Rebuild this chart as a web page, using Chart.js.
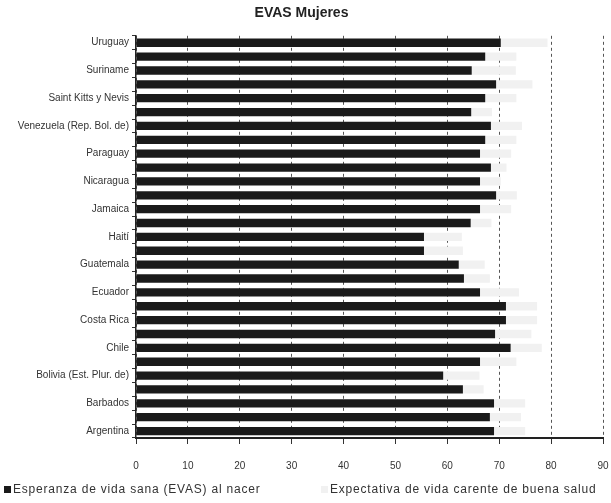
<!DOCTYPE html>
<html>
<head>
    <title>EVAS Mujeres</title>
    <meta charset="utf-8" />
    <script src="https://cdn.jsdelivr.net/npm/chart.js@4/dist/chart.umd.min.js"></script>
    <style>
        body { margin: 0; background: #fff; }
    </style>
</head>
<body>
    <canvas id="chartCanvas" width="611" height="503"></canvas>
    <script>
        // categories top to bottom, only every other one gets a label
        const countries = [
            "Uruguay", "Trinidad y Tabago", "Suriname", "Santa Lucía", "Saint Kitts y Nevis",
            "República Dominicana", "Venezuela (Rep. Bol. de)", "Perú", "Paraguay", "Panamá",
            "Nicaragua", "México", "Jamaica", "Honduras", "Haití",
            "Guyana", "Guatemala", "El Salvador", "Ecuador", "Cuba",
            "Costa Rica", "Colombia", "Chile", "Brasil", "Bolivia (Est. Plur. de)",
            "Belice", "Barbados", "Bahamas", "Argentina"
        ];
        const evas = [
            70.3, 67.3, 64.7, 69.4, 67.3,
            64.6, 68.4, 67.3, 66.3, 68.4,
            66.3, 69.4, 66.3, 64.5, 55.5,
            55.5, 62.2, 63.2, 66.3, 71.3,
            71.3, 69.2, 72.2, 66.3, 59.2,
            63.0, 69.0, 68.2, 69.0
        ];
        const mala_salud = [
            9.0, 6.0, 8.5, 7.0, 6.0,
            4.0, 6.0, 6.0, 6.0, 3.0,
            4.0, 4.0, 6.0, 4.0, 7.3,
            7.5, 5.0, 5.0, 7.5, 6.0,
            6.0, 7.0, 6.0, 7.0, 7.0,
            4.0, 6.0, 6.0, 6.0
        ];
        const x_min = 0;
        const x_max = 90;
        const x_step = 10;

        const text_color = "#333";
        const font_family = "'Liberation Sans', Arial, sans-serif";

        // legend drawn by hand: two items spread over the full width
        const legend_x = [4, 321];
        const legend_y = 490;
        const bottom_legend = {
            id: 'bottom_legend',
            afterDraw(chart) {
                const ctx = chart.ctx;
                ctx.save();
                ctx.font = "12px " + font_family;
                ctx.letterSpacing = "0.8px";
                ctx.textBaseline = "middle";
                chart.data.datasets.forEach((ds, i) => {
                    const x = legend_x[i];
                    ctx.fillStyle = ds.backgroundColor;
                    ctx.fillRect(x, legend_y - 4, 7, 7);
                    ctx.fillStyle = text_color;
                    ctx.fillText(ds.label, x + 9, legend_y);
                });
                ctx.restore();
            }
        };

        const config = {
            type: 'bar',
            data: {
                labels: countries,
                datasets: [
                    {
                        label: 'Esperanza de vida sana (EVAS) al nacer',
                        data: evas,
                        backgroundColor: '#1a1a1a',
                        borderWidth: 0,
                        categoryPercentage: 1,
                        barPercentage: 0.6
                    },
                    {
                        label: 'Expectativa de vida carente de buena salud',
                        data: mala_salud,
                        backgroundColor: '#f1f1f1',
                        borderWidth: 0,
                        categoryPercentage: 1,
                        barPercentage: 0.6
                    }
                ]
            },
            options: {
                indexAxis: 'y',
                responsive: false,
                animation: false,
                layout: {
                    padding: { left: 0, right: 8, top: 0, bottom: 15 }
                },
                plugins: {
                    title: {
                        display: true,
                        text: 'EVAS Mujeres',
                        color: '#222',
                        font: { family: font_family, size: 14, weight: 'bold' },
                        padding: { top: 5, bottom: 14 }
                    },
                    legend: { display: false },
                    tooltip: { enabled: false }
                },
                scales: {
                    x: {
                        stacked: true,
                        min: x_min,
                        max: x_max,
                        ticks: {
                            stepSize: x_step,
                            color: text_color,
                            font: { family: font_family, size: 10 },
                            padding: 16
                        },
                        grid: {
                            color: '#555',
                            lineWidth: 1,
                            tickLength: 6,
                            tickColor: '#333'
                        },
                        border: {
                            color: '#222',
                            width: 2,
                            dash: [3, 3]
                        },
                        afterFit: function (scale) {
                            scale.paddingRight = 0;
                        }
                    },
                    y: {
                        stacked: true,
                        ticks: {
                            autoSkip: false,
                            color: text_color,
                            font: { family: font_family, size: 10 },
                            padding: 3,
                            callback: function (val, i) {
                                return i % 2 === 0 ? countries[i] : '';
                            }
                        },
                        grid: {
                            drawOnChartArea: false,
                            tickLength: 4,
                            color: '#333'
                        },
                        border: {
                            color: '#222',
                            width: 1.5
                        },
                        afterFit: function (scale) {
                            scale.width = 136;
                        }
                    }
                }
            },
            plugins: [bottom_legend]
        };

        new Chart(document.getElementById('chartCanvas'), config);
    </script>
</body>
</html>
